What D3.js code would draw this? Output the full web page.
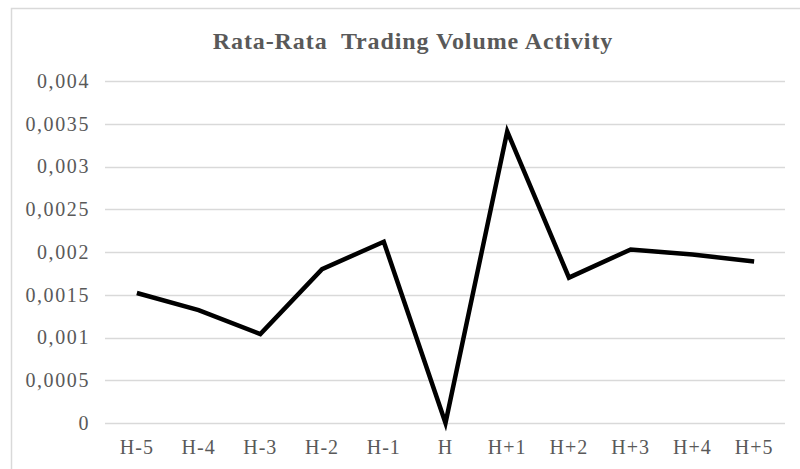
<!DOCTYPE html>
<html>
<head>
<meta charset="utf-8">
<script src="https://cdn.jsdelivr.net/npm/d3@7"></script>
<style>
  html, body { margin: 0; padding: 0; background: #fff; }
  svg { display: block; }
</style>
</head>
<body>
<svg id="chart" width="800" height="469"></svg>
<script>
const categories = ["H-5", "H-4", "H-3", "H-2", "H-1", "H", "H+1", "H+2", "H+3", "H+4", "H+5"];
const values = [0.00152, 0.00132, 0.00104, 0.00180, 0.00212, 0.0, 0.00341, 0.00170, 0.00203, 0.00197, 0.00189];
const yTicks = [0, 0.0005, 0.001, 0.0015, 0.002, 0.0025, 0.003, 0.0035, 0.004];
const yTickLabels = ["0", "0,0005", "0,001", "0,0015", "0,002", "0,0025", "0,003", "0,0035", "0,004"];
const title = "Rata-Rata  Trading Volume Activity";

const svg = d3.select("#chart");
const W = 800, H = 469;
const margin = { left: 106, right: 15, top: 81, bottom: 46 };
const textColor = "#595959";
const gridColor = "#d9d9d9";
const font = '"Liberation Serif"';

// chart border
svg.append("rect")
  .attr("x", 11.5).attr("y", 8.5)
  .attr("width", W).attr("height", H)
  .attr("fill", "none")
  .attr("stroke", gridColor)
  .attr("stroke-width", 1.5);

const x = d3.scaleBand()
  .domain(categories)
  .range([margin.left, W - margin.right])
  .paddingInner(0).paddingOuter(0);

const y = d3.scaleLinear()
  .domain([0, 0.004])
  .range([H - margin.bottom, margin.top]);

// gridlines
svg.append("g")
  .selectAll("line")
  .data(yTicks)
  .join("line")
  .attr("x1", margin.left - 1)
  .attr("x2", W - margin.right)
  .attr("y1", d => Math.round(y(d)) + 0.5)
  .attr("y2", d => Math.round(y(d)) + 0.5)
  .attr("stroke", gridColor)
  .attr("stroke-width", 1.5);

// y axis labels
const yAxis = d3.axisLeft(y)
  .tickValues(yTicks)
  .tickFormat((d, i) => yTickLabels[i])
  .tickSize(0)
  .tickPadding(16);
const gy = svg.append("g")
  .attr("transform", `translate(${margin.left},0)`)
  .call(yAxis);
gy.select(".domain").remove();
gy.selectAll("text")
  .attr("fill", textColor)
  .style("font-family", font)
  .style("font-size", "20px")
  .style("letter-spacing", "1.6px");

// x axis labels
const xAxis = d3.axisBottom(x).tickSize(0).tickPadding(17);
const gx = svg.append("g")
  .attr("transform", `translate(0,${y(0)})`)
  .call(xAxis);
gx.select(".domain").remove();
gx.selectAll("text")
  .attr("fill", textColor)
  .style("font-family", font)
  .style("font-size", "20px")
  .style("letter-spacing", "1px");

// line
const line = d3.line()
  .x((d, i) => x(categories[i]) + x.bandwidth() / 2)
  .y(d => y(d));
svg.append("path")
  .datum(values)
  .attr("d", line)
  .attr("fill", "none")
  .attr("stroke", "#000")
  .attr("stroke-width", 4.5)
  .attr("stroke-linejoin", "miter")
  .attr("stroke-linecap", "butt");

// title
svg.append("text")
  .attr("x", 413)
  .attr("y", 49)
  .attr("text-anchor", "middle")
  .attr("fill", textColor)
  .style("font-family", font)
  .style("font-weight", "bold")
  .style("font-size", "24px")
  .style("letter-spacing", "0.9px")
  .style("white-space", "pre")
  .text(title);
</script>
</body>
</html>
